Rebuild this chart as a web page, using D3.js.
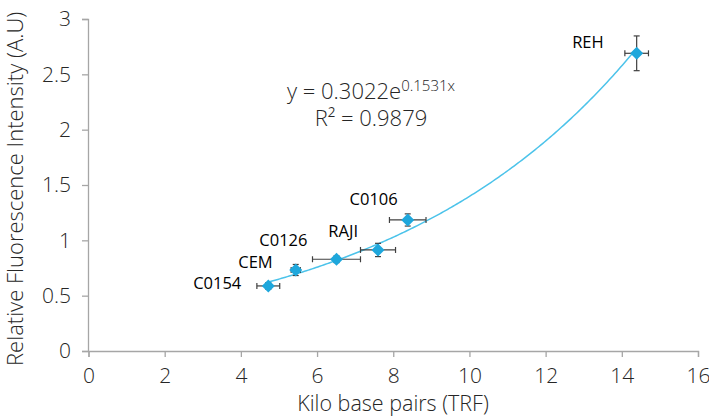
<!DOCTYPE html>
<html><head><meta charset="utf-8">
<script src="https://cdn.jsdelivr.net/npm/d3@7"></script>
<style>
body{margin:0;background:#fff;}
svg{display:block;}
</style></head>
<body>
<svg id="c" width="709" height="417"></svg>
<script>
// ---- data ----
const cellLines = ["C0154","CEM","C0126","RAJI","C0106","REH"];
const kbp       = [4.72, 5.44, 6.51, 7.60, 8.38, 14.39];
const rfi       = [0.588, 0.732, 0.829, 0.913, 1.184, 2.69];
const kbpErr    = [0.30, 0.12, 0.63, 0.46, 0.48, 0.31];
const rfiErr    = [0.03, 0.05, 0.03, 0.06, 0.055, 0.157];
const fitA = 0.3022, fitB = 0.1531;
const xTicks = [0,2,4,6,8,10,12,14,16];
const yTicks = [0,0.5,1,1.5,2,2.5,3];
const yTickLabels = ["0","0.5","1","1.5","2","2.5","3"];
// label offsets (px) relative to points
const labelDx = [-27, -23, -29, -20, -10, -33];
const labelDy = [ 3, -1.5, -13.5, -12.5, -15, -5];

const W=709,H=417, m={l:88,t:19,r:11,b:66};
const svg=d3.select("#c");
const x=d3.scaleLinear().domain([0,16]).range([m.l+0.5,W-m.r]);
const y=d3.scaleLinear().domain([0,3]).range([H-m.b,m.t]);
const tickFont="'Open Sans', Lato, sans-serif";
const axisColor="#a6a6a6";

const gx=svg.append("g").attr("transform",`translate(0,${H-m.b})`)
  .call(d3.axisBottom(x).tickValues(xTicks).tickSize(6).tickPadding(11).tickFormat(d3.format("d")));
const gy=svg.append("g").attr("transform",`translate(${m.l},0)`)
  .call(d3.axisLeft(y).tickValues(yTicks).tickSize(6).tickPadding(11).tickFormat((d,i)=>yTickLabels[i]));
[gx,gy].forEach(g=>{
  g.select(".domain").attr("stroke",axisColor).attr("stroke-width",1.3);
  g.selectAll(".tick line").attr("stroke",axisColor).attr("stroke-width",1.3);
  g.selectAll(".tick text").attr("fill","#262626").style("font-family",tickFont)
   .style("font-weight","300").style("font-size","21px");
});

// axis titles
svg.append("text").attr("x",393).attr("y",411).attr("text-anchor","middle")
  .style("font-family",tickFont).style("font-weight","300").style("font-size","21.5px").attr("fill","#262626")
  .text("Kilo base pairs (TRF)");
svg.append("text").attr("transform",`translate(23,366) rotate(-90)`).attr("text-anchor","start")
  .style("font-family",tickFont).style("font-weight","300").style("font-size","22px").attr("fill","#262626")
  .text("Relative Fluorescence Intensity (A.U)");

// trendline
const xs=d3.range(kbp[0],kbp[5]+0.001,0.05);
svg.append("path").datum(xs)
  .attr("d",d3.line().x(d=>x(d)).y(d=>y(fitA*Math.exp(fitB*d))))
  .attr("fill","none").attr("stroke","#4cc3ea").attr("stroke-width",1.5);

// error bars
const eb=svg.append("g").attr("stroke","#404040").attr("stroke-width",1.2);
cellLines.forEach((c,i)=>{
  const cx=x(kbp[i]), cy=y(rfi[i]);
  const x0=x(kbp[i]-kbpErr[i]), x1=x(kbp[i]+kbpErr[i]);
  const y0=y(rfi[i]-rfiErr[i]), y1=y(rfi[i]+rfiErr[i]);
  eb.append("line").attr("x1",x0).attr("x2",x1).attr("y1",cy).attr("y2",cy);
  eb.append("line").attr("x1",x0).attr("x2",x0).attr("y1",cy-3).attr("y2",cy+3);
  eb.append("line").attr("x1",x1).attr("x2",x1).attr("y1",cy-3).attr("y2",cy+3);
  eb.append("line").attr("x1",cx).attr("x2",cx).attr("y1",y0).attr("y2",y1);
  eb.append("line").attr("x1",cx-3).attr("x2",cx+3).attr("y1",y0).attr("y2",y0);
  eb.append("line").attr("x1",cx-3).attr("x2",cx+3).attr("y1",y1).attr("y2",y1);
});

// markers
svg.append("g").selectAll("path").data(cellLines).join("path")
  .attr("transform",(d,i)=>`translate(${x(kbp[i])},${y(rfi[i])})`)
  .attr("d","M0,-6.5L6.5,0L0,6.5L-6.5,0Z").attr("fill","#1ea7dc");

// labels
svg.append("g").selectAll("text").data(cellLines).join("text")
  .attr("x",(d,i)=>x(kbp[i])+labelDx[i]).attr("y",(d,i)=>y(rfi[i])+labelDy[i])
  .attr("text-anchor","end").style("font-family","'Open Sans', sans-serif").style("font-size","16.5px")
  .attr("fill","#000").text(d=>d);

// equation
const eq=svg.append("text").attr("x",371).attr("y",99).attr("text-anchor","middle")
  .style("font-family",tickFont).style("font-weight","300").style("font-size","22px").attr("fill","#262626");
eq.append("tspan").text(`y = ${fitA}e`);
eq.append("tspan").attr("dy",-8).style("font-size","15px").text(`${fitB}x`);
svg.append("text").attr("x",371).attr("y",126).attr("text-anchor","middle")
  .style("font-family",tickFont).style("font-weight","300").style("font-size","22px").attr("fill","#262626")
  .text("R² = 0.9879");
</script>
</body></html>
